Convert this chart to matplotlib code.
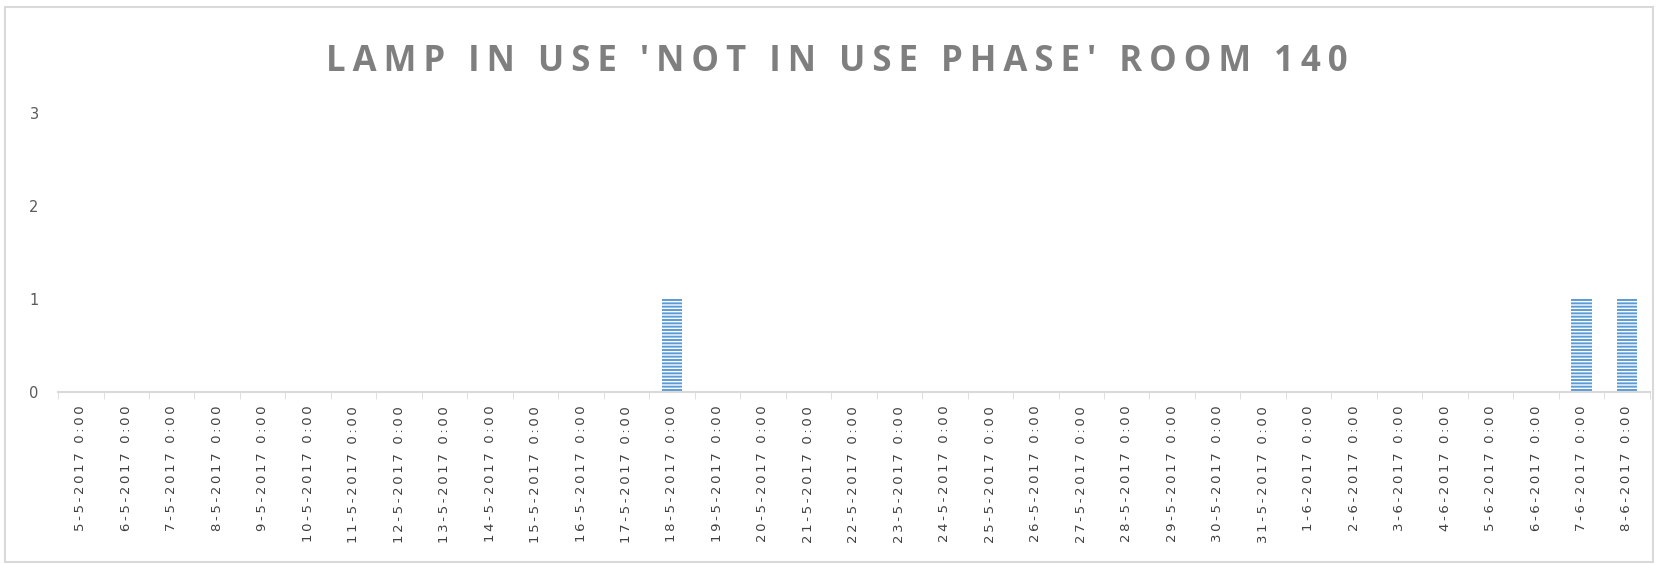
import matplotlib.pyplot as plt
import numpy as np
from matplotlib.patches import Rectangle

days_may = [f"{d}-5-2017 0:00" for d in range(5, 32)]
days_jun = [f"{d}-6-2017 0:00" for d in range(1, 9)]
labels = days_may + days_jun
values = [0] * len(labels)
values[labels.index("18-5-2017 0:00")] = 1
values[labels.index("7-6-2017 0:00")] = 1
values[labels.index("8-6-2017 0:00")] = 1
title = "LAMP IN USE 'NOT IN USE PHASE' ROOM 140"

def spaced(s):
    # letter spacing with thin spaces
    return '\u2009'.join(s)

plt.rcParams['hatch.color'] = 'white'
plt.rcParams['hatch.linewidth'] = 1.0

fig = plt.figure(figsize=(16.58, 5.64), dpi=100)
fig.patches.append(Rectangle((0.003, 0.003), 0.994, 0.985, transform=fig.transFigure,
                             fill=False, edgecolor='#d9d9d9', linewidth=1.5))
ax = fig.add_axes([0.035, 0.305, 0.96, 0.495])

x = np.arange(len(labels))
ax.bar(x, values, width=0.45, color='#5b9bd5', hatch='-----', edgecolor='white', linewidth=0)

ax.set_xlim(-0.5, len(labels) - 0.5)
ax.set_ylim(0, 3)
ax.set_yticks([0, 1, 2, 3])
ax.set_xticks(x)
ax.set_xticklabels([spaced(l) for l in labels], rotation=90, fontsize=9.5, color='#404040',
                   family=['DejaVu Sans'])
ax.set_xticks(np.arange(-0.5, len(labels)), minor=True)
ax.tick_params(axis='x', which='major', length=0, pad=10)
ax.tick_params(axis='x', which='minor', length=5, color='#d9d9d9')
ax.tick_params(axis='y', length=0, labelsize=10.5, colors='#595959', pad=14)
for s in ['top', 'right', 'left']:
    ax.spines[s].set_visible(False)
ax.spines['bottom'].set_color('#d9d9d9')
ax.spines['bottom'].set_linewidth(1.5)

fig.text(0.505, 0.89, spaced(title), ha='center', va='center', fontsize=25,
         fontweight='bold', color='#7f7f7f', family=['Open Sans', 'DejaVu Sans'])

fig.savefig('out.png', dpi=100)
